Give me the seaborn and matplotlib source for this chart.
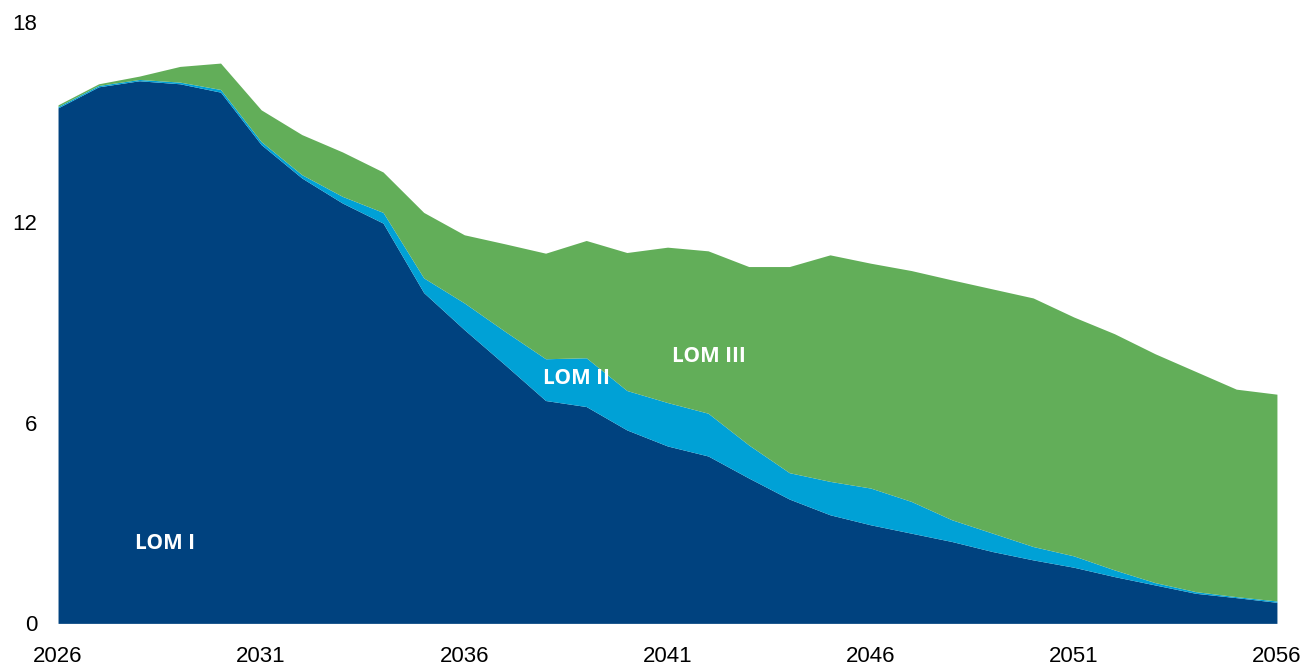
import matplotlib
matplotlib.use("Agg")
import matplotlib.pyplot as plt
import seaborn as sns

# years on the x axis
years = list(range(2026, 2057))

# stacked layers
lom_1 = [15.43, 16.06, 16.24, 16.15, 15.90, 14.33, 13.33, 12.58, 11.98, 9.90,
         8.79, 7.74, 6.67, 6.49, 5.79, 5.31, 5.01, 4.35, 3.72, 3.25,
         2.95, 2.70, 2.45, 2.15, 1.90, 1.68, 1.40, 1.15, 0.90, 0.77, 0.63]
lom_2 = [0.04, 0.04, 0.04, 0.05, 0.08, 0.09, 0.10, 0.20, 0.32, 0.44,
         0.80, 1.00, 1.25, 1.46, 1.18, 1.30, 1.28, 0.99, 0.79, 1.00,
         1.10, 0.95, 0.65, 0.55, 0.40, 0.34, 0.20, 0.07, 0.05, 0.03, 0.04]
lom_3 = [0.05, 0.05, 0.10, 0.47, 0.79, 0.95, 1.20, 1.33, 1.21, 1.96,
         2.04, 2.62, 3.16, 3.51, 4.13, 4.65, 4.86, 5.34, 6.17, 6.78,
         6.73, 6.91, 7.18, 7.31, 7.44, 7.15, 7.07, 6.85, 6.59, 6.21, 6.19]

x_ticks = [2026, 2031, 2036, 2041, 2046, 2051, 2056]
y_ticks = [0, 6, 12, 18]

colors = ["#00427f", "#00a1d6", "#62ae59"]

sns.set_theme(style="white")
plt.rcParams['font.family'] = ['Liberation Sans', 'DejaVu Sans']

fig, ax = plt.subplots(figsize=(13.07, 6.66), dpi=100)
fig.subplots_adjust(left=0.0444, right=0.977, bottom=0.064, top=0.967)

ax.stackplot(years, lom_1, lom_2, lom_3, colors=colors, linewidth=0)

ax.set_xlim(2026, 2056)
ax.set_ylim(0, 18)
ax.set_xticks(x_ticks)
ax.set_yticks(y_ticks)
ax.tick_params(axis="both", length=0, labelsize=16, colors="black")
ax.tick_params(axis="x", pad=16)
ax.tick_params(axis="y", pad=15)
sns.despine(ax=ax, left=True, bottom=True)

# series labels inside the areas
lab = dict(color="white", fontsize=15, fontweight="bold", family=["Open Sans", "DejaVu Sans"],
           ha="center", va="center")
ax.text(2028.63, 2.4, "LOM I", **lab)
ax.text(2038.77, 7.32, "LOM II", **lab)
ax.text(2042.02, 8.0, "LOM III", **lab)

plt.savefig("out.png", dpi=100)
